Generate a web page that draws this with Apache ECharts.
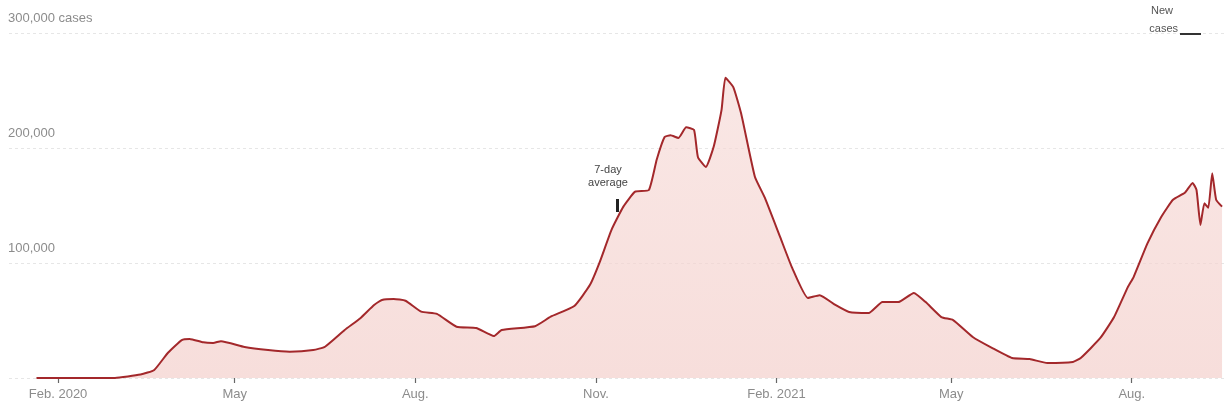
<!DOCTYPE html>
<html>
<head>
<meta charset="utf-8">
<script src="https://cdn.jsdelivr.net/npm/echarts@6/dist/echarts.min.js"></script>
<style>
html,body{margin:0;padding:0;background:#fff;}
#chart{width:1231px;height:417px;}
</style>
</head>
<body>
<div id="chart"></div>
<script>
// 7-day average of new cases
const dates = [
'2020-01-21','2020-03-01','2020-03-14','2020-03-21','2020-03-28','2020-04-04','2020-04-08','2020-04-15','2020-04-20','2020-04-24',
'2020-05-06','2020-05-18','2020-05-29','2020-06-10','2020-06-16','2020-06-26','2020-07-04','2020-07-11','2020-07-15','2020-07-21',
'2020-07-27','2020-08-04','2020-08-12','2020-08-22','2020-09-01','2020-09-10','2020-09-14','2020-10-01','2020-10-09','2020-10-21',
'2020-10-29','2020-11-03','2020-11-09','2020-11-15','2020-11-21','2020-11-28','2020-12-02','2020-12-06','2020-12-09','2020-12-13',
'2020-12-17','2020-12-21','2020-12-23','2020-12-27','2020-12-31','2021-01-04','2021-01-06','2021-01-10','2021-01-14','2021-01-21',
'2021-01-26','2021-02-03','2021-02-09','2021-02-17','2021-02-23','2021-03-03','2021-03-10','2021-03-20','2021-03-27','2021-04-04',
'2021-04-12','2021-04-18','2021-04-26','2021-05-02','2021-05-12','2021-05-22','2021-06-01','2021-06-10','2021-06-19','2021-07-02',
'2021-07-06','2021-07-16','2021-07-23','2021-07-30','2021-08-02','2021-08-09','2021-08-16','2021-08-22','2021-08-28','2021-09-01',
'2021-09-03','2021-09-05','2021-09-07','2021-09-09','2021-09-11','2021-09-13','2021-09-16'
];
const avgCases = [
0,100,3000,7000,22000,33000,34000,31000,30500,32000,
27000,24300,22900,24300,27200,41700,52000,63500,67800,68700,
67200,57700,55700,44600,43500,36500,41700,45000,53300,62600,
81000,101000,129000,149000,162000,163500,190000,209600,211000,208700,
218000,215700,192000,183500,201000,233000,261000,253000,230000,175000,
157000,122000,95700,69600,72000,63500,57400,56500,66000,66000,
74000,66000,53000,50400,35700,26000,17400,16500,13000,14000,
17400,34800,53000,79000,88000,117000,140000,155000,161000,169600,
163500,133000,152000,148000,178000,155000,149000
];
const tickDates = ['2020-02-01','2020-05-01','2020-08-01','2020-11-01','2021-02-01','2021-05-01','2021-08-01'];
const tickLabels = ['Feb. 2020','May','Aug.','Nov.','Feb. 2021','May','Aug.'];

function localTs(s){const p=s.split('-').map(Number);return new Date(p[0],p[1]-1,p[2]).getTime();}
const tickTs = tickDates.map(localTs);

const chart = echarts.init(document.getElementById('chart'));
const gray = '#8c8c8c';
const font = 'Liberation Sans, Arial, sans-serif';
chart.setOption({
  animation:false,
  grid:{left:9,right:7,top:33,bottom:39},
  xAxis:{
    type:'value',
    min:localTs('2020-01-07'),
    max:localTs('2021-09-17'),
    axisLine:{show:false},
    splitLine:{show:false},
    axisTick:{show:true,customValues:tickTs,length:5,lineStyle:{color:'#666',width:1.2}},
    axisLabel:{customValues:tickTs,color:gray,fontSize:13,fontFamily:font,margin:10,
      formatter:function(v){const i=tickTs.indexOf(v);return i>=0?tickLabels[i]:'';}}
  },
  yAxis:{
    type:'value',min:0,max:300000,interval:100000,
    axisLine:{show:false},axisTick:{show:false},
    splitLine:{show:true,lineStyle:{color:'#e6e6e6',type:[3,3],width:1}},
    axisLabel:{inside:true,margin:-1,verticalAlign:'bottom',padding:[0,0,8,0],color:gray,fontSize:13,
      fontFamily:font,
      formatter:function(v){if(v===0)return '';const s=v.toLocaleString('en-US');return v===300000?s+' cases':s;}}
  },
  series:[{
    type:'line',
    data:dates.map((d,i)=>[localTs(d),avgCases[i]]),
    showSymbol:false,
    smooth:0.15,
    lineStyle:{color:'#a3282b',width:2},
    areaStyle:{color:new echarts.graphic.LinearGradient(0,0,0,1,[{offset:0,color:'#f6dcd9'},{offset:1,color:'#f3cfcb'}])},
    z:3
  }],
  graphic:[
    {type:'text',x:608,y:163,style:{text:'7-day\naverage',fill:'#444',fontSize:11,lineHeight:13,align:'center',fontFamily:font}},
    {type:'rect',left:616,top:199,shape:{width:3,height:13},style:{fill:'#222'},z:10},
    {type:'text',x:1162,y:5,style:{text:'New',fill:'#555',fontSize:11,align:'center',fontFamily:font}},
    {type:'text',x:1178,y:23,style:{text:'cases',fill:'#555',fontSize:11,align:'right',fontFamily:font}},
    {type:'rect',left:1180,top:33,shape:{width:21,height:2},style:{fill:'#333'},z:10}
  ]
});
</script>
</body>
</html>
